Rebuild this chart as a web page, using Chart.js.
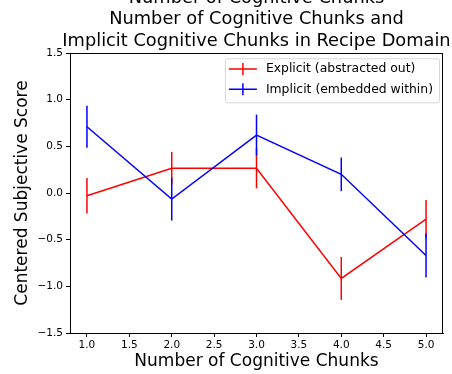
<!DOCTYPE html>
<html>
<head>
<meta charset="utf-8">
<script src="https://cdn.jsdelivr.net/npm/chart.js@4.4.0/dist/chart.umd.min.js"></script>
<style>
  html, body { margin: 0; padding: 0; background: #fff; }
  #box { position: relative; width: 452px; height: 374px; }
</style>
</head>
<body>
<div id="box"><canvas id="myChart"></canvas></div>
<script>
// datos
const chunks = [1, 2, 3, 4, 5];
const explicitMean = [-0.03, 0.265, 0.265, -0.915, -0.28];
const explicitErr = [0.19, 0.175, 0.215, 0.23, 0.205];
const implicitMean = [0.71, -0.065, 0.62, 0.2, -0.67];
const implicitErr = [0.225, 0.23, 0.22, 0.18, 0.235];
const xTicks = [1.0, 1.5, 2.0, 2.5, 3.0, 3.5, 4.0, 4.5, 5.0];
const yTicks = [-1.5, -1.0, -0.5, 0.0, 0.5, 1.0, 1.5];
const seriesNames = ['Explicit (abstracted out)', 'Implicit (embedded within)'];
const titleLines = ['Number of Cognitive Chunks', 'Number of Cognitive Chunks and', 'Implicit Cognitive Chunks in Recipe Domain'];

const FONT = 'DejaVu Sans';

const toPoints = (ys) => chunks.map((c, i) => ({ x: c, y: ys[i] }));

// barras de error, se dibujan justo despues de cada serie
const errorBars = {
    id: 'errorBars',
    afterDatasetDraw(chart, args) {
        const ds = chart.data.datasets[args.index];
        const { ctx, scales: { x, y } } = chart;
        ctx.save();
        ctx.strokeStyle = ds.borderColor;
        ctx.lineWidth = ds.borderWidth;
        ds.data.forEach((p, i) => {
            const px = x.getPixelForValue(p.x);
            ctx.beginPath();
            ctx.moveTo(px, y.getPixelForValue(p.y - ds.errors[i]));
            ctx.lineTo(px, y.getPixelForValue(p.y + ds.errors[i]));
            ctx.stroke();
        });
        ctx.restore();
    }
};

// titulo centrado sobre los ejes (la primera linea queda cortada arriba)
const axesTitle = {
    id: 'axesTitle',
    afterDraw(chart) {
        const { ctx, chartArea: ca } = chart;
        const cx = (ca.left + ca.right) / 2;
        ctx.save();
        ctx.font = `17.8px "${FONT}"`;
        ctx.fillStyle = '#000';
        ctx.textAlign = 'center';
        ctx.textBaseline = 'middle';
        const n = titleLines.length;
        titleLines.forEach((line, i) => {
            ctx.fillText(line, cx, ca.top - 12 - 21.36 * (n - 1 - i));
        });
        ctx.restore();
    }
};

// marco completo y leyenda estilo matplotlib
const frameAndLegend = {
    id: 'frameAndLegend',
    afterDraw(chart) {
        const { ctx, chartArea: ca } = chart;
        ctx.save();
        ctx.strokeStyle = '#000';
        ctx.lineWidth = 1;
        ctx.strokeRect(Math.round(ca.left) + 0.5, Math.round(ca.top) + 0.5,
            Math.round(ca.right - ca.left) - 1, Math.round(ca.bottom - ca.top));

        ctx.font = `12.4px "${FONT}"`;
        const maxW = Math.max(...seriesNames.map(s => ctx.measureText(s).width));
        const right = ca.right - 4;
        const left = right - (41 + maxW + 6);
        const top = ca.top + 5.3;
        const bottom = ca.top + 49.3;
        ctx.beginPath();
        ctx.roundRect(left + 0.5, top + 0.5, right - left, bottom - top, 2.5);
        ctx.fillStyle = 'rgba(255,255,255,0.8)';
        ctx.fill();
        ctx.strokeStyle = 'rgba(204,204,204,0.8)';
        ctx.stroke();

        const rows = [ca.top + 16, ca.top + 36.3];
        chart.data.datasets.forEach((ds, i) => {
            const cy = rows[i];
            ctx.strokeStyle = ds.borderColor;
            ctx.lineWidth = 1.5;
            ctx.beginPath();
            ctx.moveTo(left + 4, cy);
            ctx.lineTo(left + 32, cy);
            ctx.moveTo(left + 18, cy - 6);
            ctx.lineTo(left + 18, cy + 6);
            ctx.stroke();
            ctx.fillStyle = '#000';
            ctx.textBaseline = 'middle';
            ctx.textAlign = 'left';
            ctx.fillText(seriesNames[i], left + 41, cy);
        });
        ctx.restore();
    }
};

const ctx = document.getElementById('myChart').getContext('2d');
const myChart = new Chart(ctx, {
    type: 'line',
    data: {
        datasets: [{
            label: seriesNames[0],
            data: toPoints(explicitMean),
            errors: explicitErr,
            borderColor: '#ff0000',
            borderWidth: 1.5,
            pointRadius: 0,
            tension: 0,
            fill: false,
            order: 2
        }, {
            label: seriesNames[1],
            data: toPoints(implicitMean),
            errors: implicitErr,
            borderColor: '#0000ff',
            borderWidth: 1.5,
            pointRadius: 0,
            tension: 0,
            fill: false,
            order: 1
        }]
    },
    options: {
        responsive: true,
        maintainAspectRatio: false,
        animation: false,
        layout: { padding: { left: 0, right: 9, top: 53, bottom: 0 } },
        plugins: {
            legend: { display: false },
            tooltip: { enabled: false },
            title: { display: false }
        },
        scales: {
            x: {
                type: 'linear',
                min: 0.8,
                max: 5.2,
                afterBuildTicks: (s) => { s.ticks = xTicks.map(v => ({ value: v })); },
                afterFit: (s) => { s.height = 41; },
                ticks: {
                    callback: (v) => v.toFixed(1),
                    color: '#000',
                    padding: 2,
                    maxRotation: 0,
                    font: { family: FONT, size: 10.5 }
                },
                grid: { drawOnChartArea: false, drawTicks: true, tickLength: 4, tickColor: '#000' },
                border: { display: true, color: '#000', width: 1 },
                title: {
                    display: true,
                    text: 'Number of Cognitive Chunks',
                    color: '#000',
                    font: { family: FONT, size: 17, lineHeight: 1.2 },
                    padding: { top: 0, bottom: 2.1 }
                }
            },
            y: {
                min: -1.5,
                max: 1.5,
                afterBuildTicks: (s) => { s.ticks = yTicks.map(v => ({ value: v })); },
                afterFit: (s) => { s.width = 70; },
                ticks: {
                    callback: (v) => v.toFixed(1).replace('-', '\u2212'),
                    color: '#000',
                    padding: 3,
                    font: { family: FONT, size: 10.5 }
                },
                grid: { drawOnChartArea: false, drawTicks: true, tickLength: 4, tickColor: '#000' },
                border: { display: true, color: '#000', width: 1 },
                title: {
                    display: true,
                    text: 'Centered Subjective Score',
                    color: '#000',
                    font: { family: FONT, size: 17, lineHeight: 1.2 },
                    padding: { top: 12.8, bottom: 0 }
                }
            }
        }
    },
    plugins: [errorBars, axesTitle, frameAndLegend]
});
</script>
</body>
</html>
